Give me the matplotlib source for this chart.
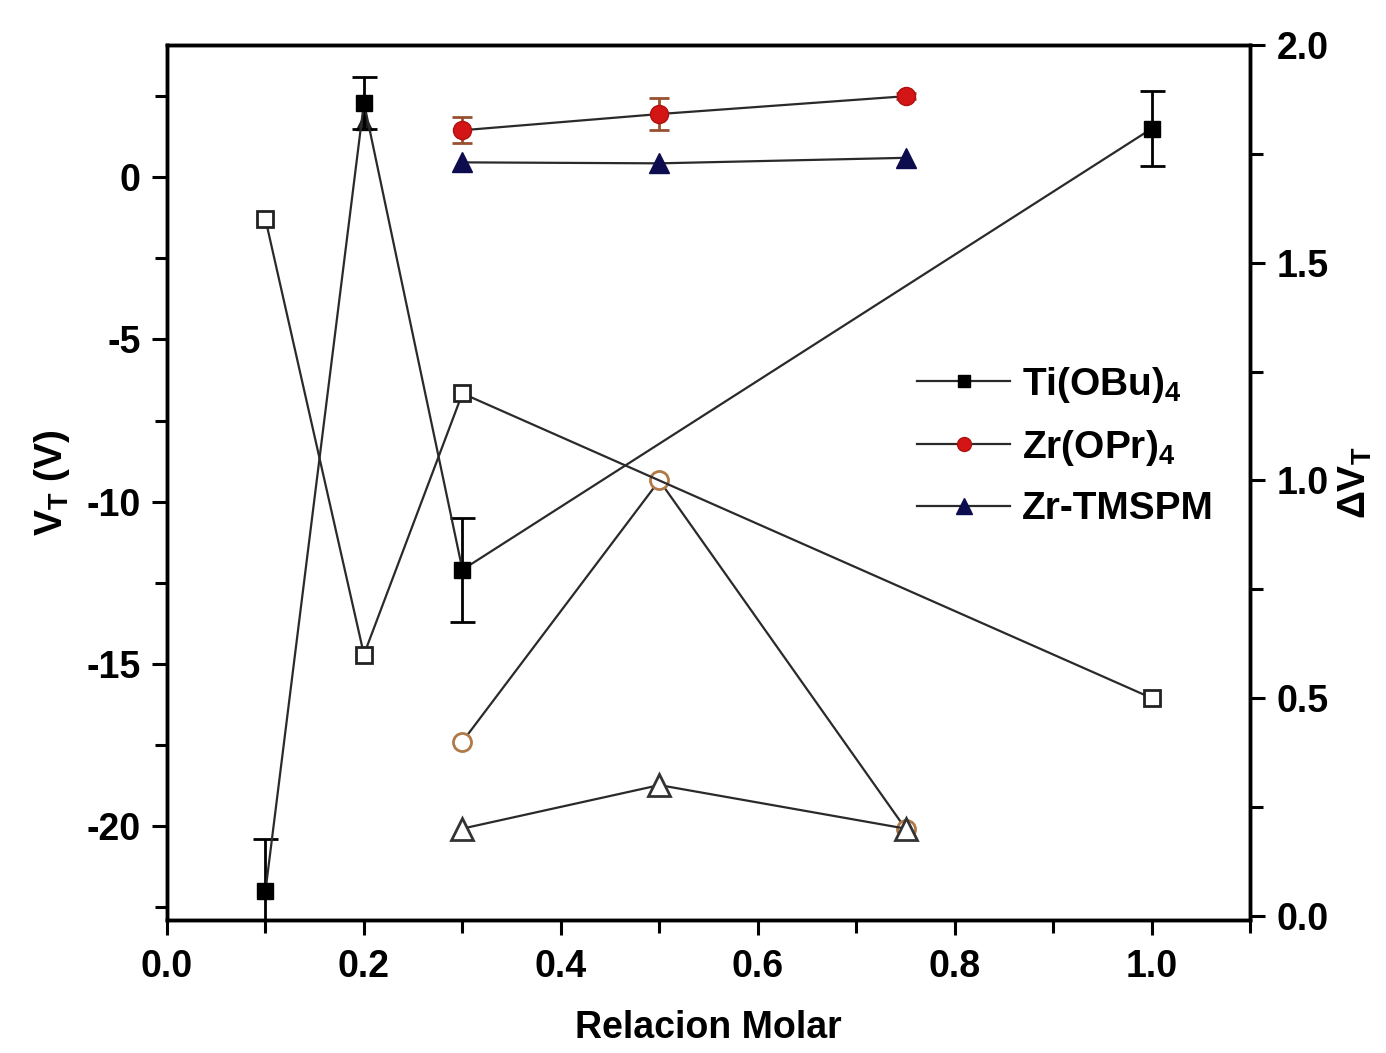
import matplotlib
matplotlib.use("Agg")
import matplotlib.pyplot as plt
from matplotlib.ticker import MultipleLocator, FormatStrFormatter
from matplotlib.lines import Line2D

plt.rcParams['font.family'] = ['Liberation Sans', 'DejaVu Sans']
plt.rcParams['font.weight'] = 'bold'
plt.rcParams['axes.unicode_minus'] = False
plt.rcParams['mathtext.fontset'] = 'custom'
plt.rcParams['mathtext.rm'] = 'Liberation Sans:bold'
plt.rcParams['mathtext.it'] = 'Liberation Sans:bold'
plt.rcParams['mathtext.bf'] = 'Liberation Sans:bold'

# Threshold voltage V_T (left axis), filled markers with error bars
ti_x = [0.1, 0.2, 0.3, 1.0]
ti_vt = [-22.0, 2.3, -12.1, 1.5]
ti_vt_err = [1.6, 0.8, 1.6, 1.15]

zrp_x = [0.3, 0.5, 0.75]
zrp_vt = [1.45, 1.95, 2.5]
zrp_vt_err = [0.4, 0.5, 0.1]

zrt_x = [0.3, 0.5, 0.75]
zrt_vt = [0.46, 0.43, 0.6]
zrt_extra_x = [0.2]
zrt_extra_vt = [1.7]

# Shift Delta V_T (right axis), open markers
ti_dvt = [1.6, 0.6, 1.2, 0.5]
zrp_dvt = [0.4, 1.0, 0.2]
zrt_dvt = [0.2, 0.3, 0.2]

labels = ['Ti(OBu)$_4$', 'Zr(OPr)$_4$', 'Zr-TMSPM']

LINE = '#2a2a2a'
RED = '#d41515'
NAVY = '#0c0c4e'

fig = plt.figure(figsize=(13.86, 10.53), dpi=100)
ax = fig.add_axes([0.1205, 0.1263, 0.7815, 0.8307])
ax2 = ax.twinx()

# left axis series
ax.errorbar(ti_x, ti_vt, yerr=ti_vt_err, color=LINE, lw=1.6, marker='s', ms=11,
            mfc='black', mec='black', ecolor='black', elinewidth=2, capsize=9,
            capthick=2, zorder=5)
ax.errorbar(zrp_x, zrp_vt, yerr=zrp_vt_err, color=LINE, lw=1.6, marker='o', ms=13,
            mfc=RED, mec='#b01010', ecolor='#9a5030', elinewidth=2, capsize=7,
            capthick=2, zorder=5)
ax.plot(zrt_x, zrt_vt, color=LINE, lw=1.6, marker='^', ms=14,
        mfc=NAVY, mec=NAVY, zorder=5)
ax.plot(zrt_extra_x, zrt_extra_vt, ls='none', marker='^', ms=12, mfc='#1a1a1a',
        mec='#1a1a1a', zorder=4)

# right axis series
ax2.plot(ti_x, ti_dvt, color=LINE, lw=1.6, marker='s', ms=11, mfc='white',
         mec='#222222', mew=2, zorder=5)
ax2.plot(zrp_x, zrp_dvt, color=LINE, lw=1.6, marker='o', ms=13, mfc='white',
         mec='#b07a48', mew=2, zorder=4)
ax2.plot(zrt_x, zrt_dvt, color=LINE, lw=1.6, marker='^', ms=16, mfc='white',
         mec='#333333', mew=2, zorder=5)

ax.set_xlim(0.0, 1.1)
ax.set_ylim(-22.9, 4.07)
ax2.set_ylim(-0.01, 2.0)

ax.xaxis.set_major_locator(MultipleLocator(0.2))
ax.xaxis.set_minor_locator(MultipleLocator(0.1))
ax.yaxis.set_major_locator(MultipleLocator(5))
ax.yaxis.set_minor_locator(MultipleLocator(2.5))
ax2.yaxis.set_major_locator(MultipleLocator(0.5))
ax2.yaxis.set_minor_locator(MultipleLocator(0.25))

ax.xaxis.set_major_formatter(FormatStrFormatter('%.1f'))
ax2.yaxis.set_major_formatter(FormatStrFormatter('%.1f'))

for a in (ax, ax2):
    for s in a.spines.values():
        s.set_linewidth(2.5)
    a.tick_params(which='major', direction='out', length=11, width=2.2, labelsize=27)
    a.tick_params(which='minor', direction='out', length=9, width=2.2)
ax.tick_params(axis='x', pad=10)
ax.tick_params(axis='y', pad=8)
ax2.tick_params(axis='y', pad=8)

ax.set_xlabel('Relacion Molar', fontsize=27, fontweight='bold', labelpad=18)
ax.set_ylabel('V$_T$ (V)', fontsize=28, fontweight='bold', labelpad=10)
ax2.set_ylabel('ΔV$_T$', fontsize=28, fontweight='bold', labelpad=6)

# legend handles: line with marker, no error bars
handles = [
    Line2D([], [], color=LINE, lw=1.6, marker='s', ms=9, mfc='black', mec='black'),
    Line2D([], [], color=LINE, lw=1.6, marker='o', ms=10, mfc=RED, mec='#b01010'),
    Line2D([], [], color=LINE, lw=1.6, marker='^', ms=12, mfc=NAVY, mec=NAVY),
]
ax.legend(handles=handles, labels=labels, loc='upper left',
          bbox_to_anchor=(0.66, 0.675), frameon=False, fontsize=28,
          handlelength=2.4, handletextpad=0.3, labelspacing=0.6)

fig.savefig('out.png', dpi=100)
